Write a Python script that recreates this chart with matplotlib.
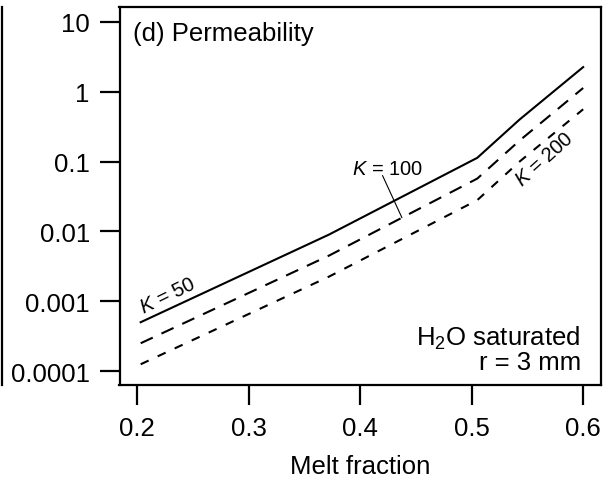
import numpy as np
import matplotlib
matplotlib.use("Agg")
import matplotlib.pyplot as plt
from matplotlib.lines import Line2D
from matplotlib.ticker import FixedLocator, FixedFormatter

plt.rcParams['font.family'] = ['Liberation Sans', 'DejaVu Sans']
plt.rcParams['mathtext.fontset'] = 'custom'
plt.rcParams['mathtext.rm'] = 'Liberation Sans'
plt.rcParams['mathtext.it'] = 'Liberation Sans:italic'

# Permeability vs melt fraction for three grain-geometry constants K
melt_fraction = [0.203, 0.372, 0.505, 0.543, 0.600]
perm_k50 = [5.0e-4, 9.0e-3, 0.113, 0.40, 2.25]
perm_k100 = [2.5e-4, 4.5e-3, 0.057, 0.20, 1.13]
perm_k200 = [1.25e-4, 2.25e-3, 0.028, 0.10, 0.56]

x_ticks = [0.2, 0.3, 0.4, 0.5, 0.6]
x_tick_labels = ['0.2', '0.3', '0.4', '0.5', '0.6']
y_ticks = [1e-4, 1e-3, 1e-2, 1e-1, 1, 10]
y_tick_labels = ['0.0001', '0.001', '0.01', '0.1', '1', '10']

W, H = 610, 485
fig = plt.figure(figsize=(W / 100, H / 100), dpi=100)
left, right, top, bottom = 119.5, 601, 7.5, 386
ax = fig.add_axes([left / W, 1 - bottom / H, (right - left) / W, (bottom - top) / H])

lw = 1.5
ax.plot(melt_fraction, perm_k50, color='black', lw=lw, solid_joinstyle='miter')
ax.plot(melt_fraction, perm_k100, color='black', lw=lw, dashes=(6.4, 4.6))
ax.plot(melt_fraction, perm_k200, color='black', lw=lw, dashes=(4.2, 4.8))

ax.set_yscale('log')
ax.set_xlim(0.184, 0.616)
ax.set_ylim(10 ** -4.2, 10 ** 1.22)
ax.xaxis.set_major_locator(FixedLocator(x_ticks))
ax.xaxis.set_major_formatter(FixedFormatter(x_tick_labels))
ax.yaxis.set_major_locator(FixedLocator(y_ticks))
ax.yaxis.set_major_formatter(FixedFormatter(y_tick_labels))
ax.yaxis.set_minor_locator(FixedLocator([]))

fs = 18.5
ax.tick_params(axis='both', which='major', direction='out', length=14.4, width=1.6,
               labelsize=fs, color='black')
ax.tick_params(axis='x', pad=8)
ax.tick_params(axis='y', pad=7)
for sp in ax.spines.values():
    sp.set_linewidth(1.6)

ax.set_xlabel('Melt fraction', fontsize=fs, labelpad=10)

ax.text(0.028, 0.962, '(d) Permeability', transform=ax.transAxes, fontsize=fs,
        ha='left', va='top')
ax.text(0.958, 0.125, 'H$_2$O saturated', transform=ax.transAxes, fontsize=fs,
        ha='right', va='center')
ax.text(0.958, 0.062, 'r = 3 mm', transform=ax.transAxes, fontsize=fs,
        ha='right', va='center')

lfs = 14.5
ax.text(0.2275, 1.22e-3, '$K$ = 50', fontsize=lfs, rotation=26,
        ha='center', va='center', rotation_mode='anchor')
ax.text(0.565, 0.11, '$K$ = 200', fontsize=lfs, rotation=42,
        ha='center', va='center', rotation_mode='anchor')
ax.text(0.4246, 0.079, '$K$ = 100', fontsize=lfs, ha='center', va='center')

# leader from the K = 100 label down to the dashed curve
x_hit = 0.4374
y_hit = 10 ** np.interp(x_hit, melt_fraction, np.log10(perm_k100))
ax.annotate('', xy=(x_hit, y_hit), xytext=(0.420, 0.063),
            arrowprops=dict(arrowstyle='-', lw=0.8, color='black',
                            shrinkA=0, shrinkB=0))

# right border of the neighbouring panel
fig.add_artist(Line2D([1.5 / W, 1.5 / W], [1 - 7.5 / H, 1 - 386 / H],
                      transform=fig.transFigure, color='black', lw=1.6))

fig.savefig('out.png', dpi=100)
